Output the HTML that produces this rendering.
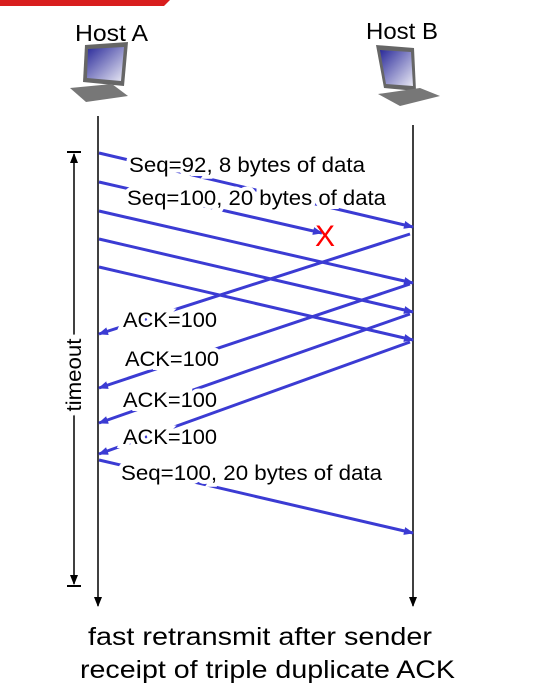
<!DOCTYPE html>
<html><head><meta charset="utf-8">
<style>
html,body{margin:0;padding:0;background:#fff;}
svg{display:block;font-family:"Liberation Sans",sans-serif;}
</style></head>
<body>
<svg id="chart" width="536" height="700" viewBox="0 0 536 700" xmlns="http://www.w3.org/2000/svg">
<defs>
<marker id="ah" markerWidth="10" markerHeight="8" refX="9" refY="4" orient="auto" markerUnits="userSpaceOnUse">
<path d="M0,0 L10,4 L0,8 z" fill="#3b3bd3"/></marker>
<marker id="kh" markerWidth="10" markerHeight="8" refX="9" refY="4" orient="auto" markerUnits="userSpaceOnUse">
<path d="M0,0 L10,4 L0,8 z" fill="#000"/></marker>
<linearGradient id="scr" x1="0" y1="0" x2="1" y2="1"><stop offset="0" stop-color="#2a2a9a"/><stop offset="1" stop-color="#e8e8f4"/></linearGradient>
</defs>
<path d="M0,0 L170,0 L164,6 L0,6 z" fill="#d81e1e"/>
<text x="75" y="41" font-size="23" textLength="73" lengthAdjust="spacingAndGlyphs">Host A</text>
<text x="366" y="39" font-size="23" textLength="72" lengthAdjust="spacingAndGlyphs">Host B</text>
<g>
<path d="M85,45 L128,42 L124,86 L83,82 z" fill="#666"/><path d="M88,49 L124,47 L121,81 L87,78 z" fill="url(#scr)"/>
<path d="M70,88 L112,84 L128,96 L86,102 z" fill="#777"/></g>
<g>
<path d="M376,45 L414,48 L416,91 L384,88 z" fill="#666"/><path d="M380,50 L411,52 L413,86 L386,84 z" fill="url(#scr)"/>
<path d="M378,94 L420,88 L440,96 L400,106 z" fill="#777"/></g>
<line x1="98" y1="116" x2="98" y2="606" stroke="#000" stroke-width="1.5" marker-end="url(#kh)"/>
<line x1="413" y1="125" x2="413" y2="606" stroke="#000" stroke-width="1.5" marker-end="url(#kh)"/>
<g>
<line x1="74" y1="372" x2="74" y2="154" stroke="#000" stroke-width="1.5" marker-end="url(#kh)"/>
<line x1="74" y1="372" x2="74" y2="584" stroke="#000" stroke-width="1.5" marker-end="url(#kh)"/>
<line x1="67" y1="152" x2="81" y2="152" stroke="#000" stroke-width="2"/>
<line x1="67" y1="586" x2="81" y2="586" stroke="#000" stroke-width="2"/>
</g>
<text transform="translate(81,375) rotate(-90)" text-anchor="middle" font-size="21" textLength="73" lengthAdjust="spacingAndGlyphs" stroke="#fff" stroke-width="8" paint-order="stroke">timeout</text>
<g id="msgs"></g>
<g id="labels"></g>
<text x="325" y="246" font-size="30" fill="#f00" text-anchor="middle">X</text>
<text x="88" y="645" font-size="25" textLength="344" lengthAdjust="spacingAndGlyphs">fast retransmit after sender</text>
<text x="80" y="678" font-size="25" textLength="375" lengthAdjust="spacingAndGlyphs">receipt of triple duplicate ACK</text>
</svg>
<script>
// message data: [fromHost, startY, endY, endX-fraction]
const msgNames = ["seq92","seq100","seg3","seg4","seg5","ack1","ack2","ack3","ack4","seq100-retransmit"];
const msgFrom  = ["A","A","A","A","A","B","B","B","B","A"];
const msgStartY= [153,182,211,239,267,234,284,314,342,460];
const msgEndY  = [227,233,283,312,340,334,388,423,454,533];
const msgReach = [1,0.71,1,1,1,1,1,1,1,1];
const labelText = ["Seq=92, 8 bytes of data","Seq=100, 20 bytes of data","ACK=100","ACK=100","ACK=100","ACK=100","Seq=100, 20 bytes of data"];
const labelY    = [172,205,327,366,407,444,480];
const labelX    = [129,127,123,125,123,123,121];
const labelW    = [236,259,94,94,94,94,261];
const AX=99, BX=412;
const NS="http://www.w3.org/2000/svg";
const g=document.getElementById('msgs');
msgNames.forEach((n,i)=>{
  const x1 = msgFrom[i]==="A"?AX:BX-2;
  const x2full = msgFrom[i]==="A"?BX+1:AX;
  const x2 = x1+(x2full-x1)*msgReach[i];
  const l=document.createElementNS(NS,'line');
  l.setAttribute('x1',x1);l.setAttribute('y1',msgStartY[i]);
  l.setAttribute('x2',x2);l.setAttribute('y2',msgEndY[i]);
  l.setAttribute('stroke','#3b3bd3');l.setAttribute('stroke-width','3');
  l.setAttribute('marker-end','url(#ah)');
  
  
  g.appendChild(l);
});
const lg=document.getElementById('labels');
labelText.forEach((t,i)=>{
  const e=document.createElementNS(NS,'text');
  e.setAttribute('x',labelX[i]);e.setAttribute('y',labelY[i]);
  e.setAttribute('font-size','21');
  e.setAttribute('textLength',labelW[i]);
  e.setAttribute('lengthAdjust','spacingAndGlyphs');
  e.setAttribute('stroke','#fff');e.setAttribute('stroke-width','8');
  e.setAttribute('paint-order','stroke');
  e.textContent=t;
  
  
  lg.appendChild(e);
});
</script>
</body></html>
